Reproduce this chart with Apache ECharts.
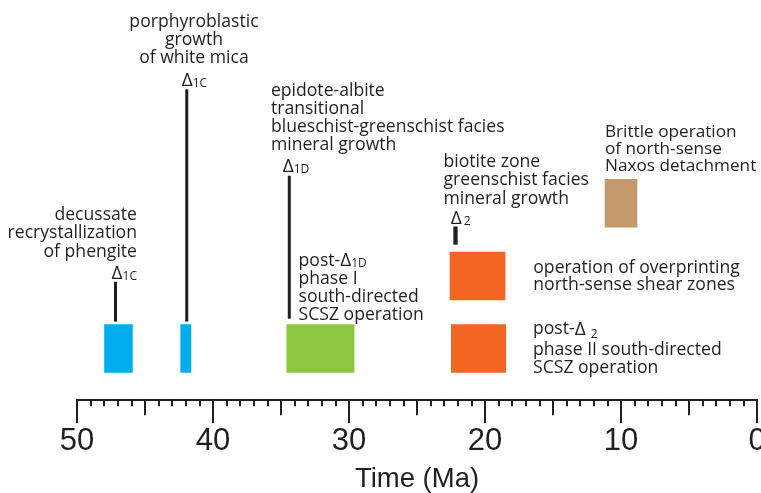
<!DOCTYPE html>
<html>
<head>
<meta charset="utf-8">
<script src="https://cdn.jsdelivr.net/npm/echarts@6/dist/echarts.min.js"></script>
<style>
  html, body { margin: 0; padding: 0; background: #ffffff; }
  #chart { width: 761px; height: 493px; }
</style>
</head>
<body>
<div id="chart"></div>
<script>
// ---- data -------------------------------------------------------------
// Time axis (Ma), oldest on the left
const tickLabels = ['50', '40', '30', '20', '10', '0'];

// Activity intervals: start / end age (Ma) and the row they sit on
const barNames = ['decussate phengite', 'porphyroblastic white mica', 'phase I SCSZ',
                  'north-sense shear zones', 'phase II SCSZ', 'Naxos detachment'];
const barStart = [48.0, 42.4, 34.6, 22.6, 22.5, 11.2];
const barEnd   = [45.9, 41.6, 29.6, 18.5, 18.45, 8.8];
const barRow   = [0, 0, 0, 1, 0, 2];

// Deformation markers (Δ): age (Ma) and vertical extent in row units
const markerAge  = [47.17, 41.93, 34.39, 22.17];
const markerFrom = [0.37, 0.37, 0.41, 1.43];
const markerTo   = [0.92, 3.57, 2.38, 1.68];

// Annotations: text, and anchor in (age, row) units
const noteText = [
  'decussate\nrecrystallization\nof phengite',
  '{d|Δ}{s|1C}',
  'porphyroblastic\ngrowth\nof white mica',
  '{d|Δ}{s|1C}',
  'epidote-albite\ntransitional\nblueschist-greenschist facies\nmineral growth',
  '{d|Δ}{s|1D}',
  'post-{d|Δ}{s|1D}\nphase I\nsouth-directed\nSCSZ operation',
  'biotite zone\ngreenschist facies\nmineral growth',
  '{d|Δ}{s2|2}',
  'Brittle operation\nof north-sense\nNaxos detachment',
  'operation of overprinting\nnorth-sense shear zones',
  'post-{D|Δ}{S|2}\nphase II south-directed\nSCSZ operation'
];
const noteAge = [45.59, 45.59, 41.4, 42.30, 35.74, 34.88, 33.71, 23.05, 22.52, 11.18, 16.45, 16.47];
const noteRow = [1.994, 1.058, 4.627, 3.722, 3.693, 2.528, 1.311, 2.722, 1.821, 3.128, 1.247, 0.455];

// ---- styling ----------------------------------------------------------
const INK = '#231f20';
const TEXT_FONT = '"Open Sans", "Noto Sans", sans-serif';
const AXIS_FONT = '"Liberation Sans", Arial, sans-serif';
const barColors = ['#00aeef', '#00aeef', '#8dc63f', '#f26522', '#f26522', '#c49a6c'];
const markerWidth = [3, 3, 3, 4.3];
const noteAlign = ['right', 'right', 'center', 'left', 'left', 'left', 'left', 'left', 'left', 'left', 'left', 'left'];
const noteVAlign = ['top', 'middle', 'top', 'middle', 'top', 'middle', 'top', 'top', 'middle', 'top', 'top', 'top'];
const noteLineHeight = [18.5, 20, 18.2, 20, 17.8, 20, 18, 18.3, 20, 17.2, 17.3, 18];
const noteNudge = [2, 2, 0, 2, 2, 2, -1.5, 2, 2, 2, 1, 2.5];
const noteSize = [17.6, 17.6, 17.6, 17.6, 17.6, 17.6, 17.6, 17.6, 17.6, 17.2, 17.6, 17.6];

const rich = {
  d:  { fontSize: 19, fontFamily: TEXT_FONT, fill: INK, lineHeight: 18 },
  s:  { fontSize: 12, fontFamily: TEXT_FONT, fill: INK, lineHeight: 4, verticalAlign: 'bottom' },
  s2: { fontSize: 12, fontFamily: TEXT_FONT, fill: INK, lineHeight: 4, verticalAlign: 'bottom', padding: [0, 0, 0, 2] },
  D:  { fontSize: 19, fontFamily: TEXT_FONT, fill: INK, lineHeight: 23 },
  S:  { fontSize: 12, fontFamily: TEXT_FONT, fill: INK, lineHeight: 4, verticalAlign: 'bottom', padding: [0, 0, 0, 5] }
};

const chart = echarts.init(document.getElementById('chart'), null, { renderer: 'canvas' });

const gridBox = { left: 77, right: 4, top: 0, bottom: 93.7, outerBoundsMode: 'none', containLabel: false };
const ageMin = Number(tickLabels[tickLabels.length - 1]);
const ageMax = Number(tickLabels[0]);

chart.setOption({
  animation: false,
  backgroundColor: '#ffffff',
  grid: [Object.assign({}, gridBox), Object.assign({}, gridBox)],
  xAxis: [
    {
      type: 'value', gridIndex: 0, inverse: true, min: ageMin, max: ageMax, interval: 10,
      position: 'bottom',
      axisLine: { show: true, onZero: false, lineStyle: { color: INK, width: 2 } },
      axisTick: { show: true, length: 24, lineStyle: { color: INK, width: 2 } },
      minorTick: { show: false },
      splitLine: { show: false },
      axisLabel: {
        show: true, margin: 27, fontSize: 31, fontFamily: AXIS_FONT, color: INK,
        formatter: v => tickLabels.includes(String(v)) ? String(v) : ''
      },
      name: 'Time (Ma)', nameLocation: 'middle', nameGap: 66,
      nameTextStyle: { fontSize: 27.5, fontFamily: AXIS_FONT, color: INK }
    },
    {
      type: 'value', gridIndex: 1, inverse: true, min: ageMin, max: ageMax, interval: 5,
      position: 'bottom',
      axisLine: { show: false, onZero: false },
      axisTick: { show: true, length: 16, lineStyle: { color: INK, width: 2 } },
      minorTick: { show: true, splitNumber: 5, length: 7, lineStyle: { color: INK, width: 2 } },
      splitLine: { show: false },
      axisLabel: { show: false }
    }
  ],
  yAxis: [
    { type: 'value', gridIndex: 0, min: -0.7, max: 4.8, show: false },
    { type: 'value', gridIndex: 1, min: -0.7, max: 4.8, show: false }
  ],
  series: [
    {
      // activity intervals
      type: 'custom', name: 'intervals', xAxisIndex: 0, yAxisIndex: 0,
      data: barStart.map((s, i) => [s, barEnd[i], barRow[i], barNames[i]]),
      encode: { x: [0, 1], y: 2 },
      renderItem: (params, api) => {
        const a = api.coord([api.value(0), api.value(2)]);
        const b = api.coord([api.value(1), api.value(2)]);
        const h = api.size([0, 1])[1] * 0.668;
        return {
          type: 'rect',
          shape: { x: Math.min(a[0], b[0]), y: a[1] - h / 2, width: Math.abs(b[0] - a[0]), height: h },
          style: { fill: barColors[params.dataIndex] }
        };
      }
    },
    {
      // Δ deformation markers
      type: 'custom', name: 'markers', xAxisIndex: 0, yAxisIndex: 0,
      data: markerAge.map((t, i) => [t, markerFrom[i], markerTo[i]]),
      encode: { x: 0, y: [1, 2] },
      renderItem: (params, api) => {
        const lo = api.coord([api.value(0), api.value(1)]);
        const hi = api.coord([api.value(0), api.value(2)]);
        return {
          type: 'line',
          shape: { x1: lo[0], y1: lo[1], x2: hi[0], y2: hi[1] },
          style: { stroke: INK, lineWidth: markerWidth[params.dataIndex] }
        };
      }
    },
    {
      // annotations
      type: 'custom', name: 'notes', xAxisIndex: 0, yAxisIndex: 0,
      data: noteAge.map((t, i) => [t, noteRow[i]]),
      encode: { x: 0, y: 1 },
      renderItem: (params, api) => {
        const i = params.dataIndex;
        const p = api.coord([api.value(0), api.value(1)]);
        return {
          type: 'text',
          x: p[0], y: p[1] + noteNudge[i],
          style: {
            text: noteText[i],
            fontSize: noteSize[i], fontFamily: TEXT_FONT, fill: INK,
            lineHeight: noteLineHeight[i],
            align: noteAlign[i], verticalAlign: noteVAlign[i],
            rich: rich
          }
        };
      }
    }
  ]
});
</script>
</body>
</html>
